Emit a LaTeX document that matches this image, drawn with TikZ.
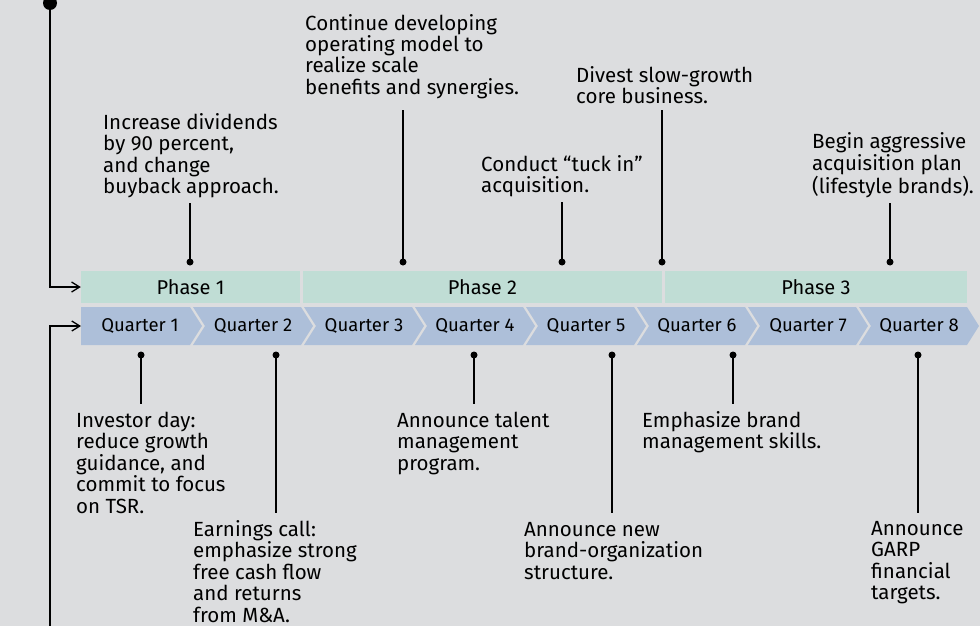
\documentclass[tikz,border=0pt]{standalone}
\usepackage{fontspec}
\setmainfont{Fira Sans}
\usetikzlibrary{arrows.meta}
\definecolor{bg}{HTML}{DCDDDF}
\definecolor{phasec}{HTML}{C0DDD5}
\definecolor{qtrc}{HTML}{ADBFD9}
\begin{document}
\begin{tikzpicture}[x=1pt,y=-1pt,
  ann/.style={anchor=base west, inner sep=0, align=left, font=\fontsize{20.5}{21.5}\selectfont},
  lbl/.style={inner sep=0, font=\fontsize{18.5}{22}\selectfont},
  phasebox/.style={fill=phasec, inner sep=0, minimum height=32, font=\fontsize{20}{24}\selectfont},
  dotn/.style={circle, fill=black, inner sep=0, minimum size=7},
  conn/.style={line width=1.3},
  arr/.style={line width=1.3, -{Straight Barb[length=8,width=10]}},
  chev/.style={fill=qtrc}
]
\fill[bg] (0,0) rectangle (980,626);
\useasboundingbox (0,0) rectangle (980,626);

% phases
\node[phasebox, minimum width=219] (p1) at (190.5,287) {Phase 1};
\node[phasebox, minimum width=359] (p2) at (482.5,287) {Phase 2};
\node[phasebox, minimum width=302] (p3) at (816,287) {Phase 3};

% quarters (chevrons)
\fill[chev] (81,307) -- (190,307) -- (202,326) -- (190,345) -- (81,345) -- cycle;
\foreach \k/\L/\R in {2/193/301,3/304/412,4/415/523,5/526/634,6/637/745,7/748/856,8/859/967}{
  \fill[chev] (\L,307) -- (\R,307) -- (\R+12,326) -- (\R,345) -- (\L,345) -- (\L+12,326) -- cycle;
}
\node[lbl] (q1) at (140,326) {Quarter 1};
\node[lbl] (q2) at (253,326) {Quarter 2};
\node[lbl] (q3) at (364,326) {Quarter 3};
\node[lbl] (q4) at (475,326) {Quarter 4};
\node[lbl] (q5) at (586,326) {Quarter 5};
\node[lbl] (q6) at (697,326) {Quarter 6};
\node[lbl] (q7) at (808,326) {Quarter 7};
\node[lbl] (q8) at (919,326) {Quarter 8};

% left timeline lines
\node[circle, fill=black, inner sep=0, minimum size=14] (start) at (50,3) {};
\coordinate (c1) at (50,287);
\coordinate (c2) at (50,626);
\coordinate (c3) at (50,326);
\coordinate (qin) at (81,326);
\draw[arr] (start.center) -- (c1) -- (p1.west);
\draw[arr] (c2) -- (c3) -- (qin);

% upper annotations (anchored at last baseline)
\node[ann] (a1) at (103,193.5) {Increase dividends\\by 90 percent,\\and change\\buyback approach.};
\node[ann] (a2) at (305,94.5) {Continue developing\\operating model to\\realize scale\\benefits and synergies.};
\node[ann] (a3) at (481,192.5) {Conduct “tuck in”\\acquisition.};
\node[ann] (a4) at (576,103.5) {Divest slow-growth\\core business.};
\node[ann] (a5) at (812,193) {Begin aggressive\\acquisition plan\\(lifestyle brands).};

\node[dotn] (ud1) at (190,262) {};
\node[dotn] (ud2) at (403,262) {};
\node[dotn] (ud3) at (562,262) {};
\node[dotn] (ud4) at (662,262) {};
\node[dotn] (ud5) at (890,262) {};
\coordinate (ue1) at (190,203);
\coordinate (ue2) at (403,110);
\coordinate (ue3) at (562,202);
\coordinate (ue4) at (662,110);
\coordinate (ue5) at (890,203);
\foreach \i in {1,...,5}{\draw[conn] (ud\i.center) -- (ue\i);}

% lower annotations (anchored at last baseline)
\node[ann] (b1) at (76,513) {Investor day:\\reduce growth\\guidance, and\\commit to focus\\on TSR.};
\node[ann] (b2) at (193,622) {Earnings call:\\emphasize strong\\free cash flow\\and returns\\from M\&A.};
\node[ann] (b3) at (397,470) {Announce talent\\management\\program.};
\node[ann] (b4) at (524,579) {Announce new\\brand-organization\\structure.};
\node[ann] (b5) at (642,448.5) {Emphasize brand\\management skills.};
\node[ann] (b6) at (871,599.5) {Announce\\GARP\\financial\\targets.};

\node[dotn] (ld1) at (141,355) {};
\node[dotn] (ld2) at (276,355) {};
\node[dotn] (ld3) at (474,355) {};
\node[dotn] (ld4) at (612,355) {};
\node[dotn] (ld5) at (733,355) {};
\node[dotn] (ld6) at (918,355) {};
\coordinate (le1) at (141,404);
\coordinate (le2) at (276,513);
\coordinate (le3) at (474,404);
\coordinate (le4) at (612,513);
\coordinate (le5) at (733,404);
\coordinate (le6) at (918,513);
\foreach \i in {1,...,6}{\draw[conn] (ld\i.center) -- (le\i);}
\end{tikzpicture}
\end{document}
